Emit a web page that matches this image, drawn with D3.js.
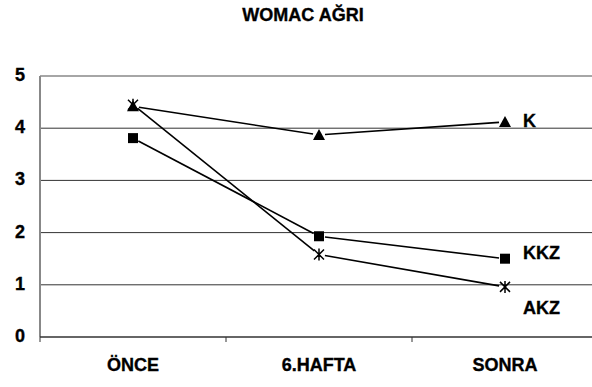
<!DOCTYPE html>
<html><head><meta charset="utf-8">
<script src="https://cdn.jsdelivr.net/npm/d3@7"></script>
<style>body{margin:0;background:#fff}svg{display:block}text{font-family:"Liberation Sans",Arial,sans-serif;font-weight:bold;fill:#000;stroke:#000;stroke-width:0.35px}</style>
</head><body>
<script>
const title = "WOMAC AĞRI";
const categories = ["ÖNCE", "6.HAFTA", "SONRA"];
const seriesNames = ["K", "KKZ", "AKZ"];
const valuesK = [4.42, 3.87, 4.12];
const valuesKKZ = [3.81, 1.93, 1.50];
const valuesAKZ = [4.45, 1.58, 0.96];
const yTicks = [0, 1, 2, 3, 4, 5];

const W = 592, H = 387;
const svg = d3.select("body").append("svg").attr("width", W).attr("height", H);
const L = 40, R = 598, T = 76, B = 337;
const x = d3.scaleBand().domain(categories).range([L, R]);
const y = d3.scaleLinear().domain([0, 5]).range([B, T]);

svg.append("text").attr("x", 303).attr("y", 21).attr("text-anchor", "middle")
  .style("font-size", "18px").text(title);

// gridlines
svg.append("g").selectAll("line").data(yTicks.filter(d => d > 0 && d < 5)).join("line")
  .attr("x1", L).attr("x2", R).attr("y1", d => y(d)).attr("y2", d => y(d))
  .attr("stroke", "#333").attr("stroke-width", 1);
// plot border top/left
svg.append("line").attr("x1", L).attr("x2", R).attr("y1", y(5)).attr("y2", y(5)).attr("stroke", "#888").attr("stroke-width", 1.5);
svg.append("line").attr("x1", L).attr("x2", L).attr("y1", T).attr("y2", B).attr("stroke", "#888").attr("stroke-width", 2);

// x axis
const xAxis = d3.axisBottom(x).tickSize(0).tickFormat("");
const gx = svg.append("g").attr("transform", `translate(0,${B})`).call(xAxis);
gx.select(".domain").remove();
svg.append("line").attr("x1", L).attr("x2", R).attr("y1", B).attr("y2", B).attr("stroke", "#333").attr("stroke-width", 1.5);
svg.append("g").selectAll("line").data(categories).join("line")
  .attr("x1", d => x(d)).attr("x2", d => x(d)).attr("y1", B).attr("y2", B + 5)
  .attr("stroke", "#333").attr("stroke-width", 1);
svg.append("g").selectAll("text").data(categories).join("text")
  .attr("x", d => x(d) + x.bandwidth() / 2).attr("y", 371).attr("text-anchor", "middle")
  .style("font-size", "18px").text(d => d);

// y tick labels
svg.append("g").selectAll("text").data(yTicks).join("text")
  .attr("x", 25).attr("y", d => y(d) + 5).attr("text-anchor", "end")
  .style("font-size", "18px").text(d => d);

const series = [
  {name: seriesNames[0], values: valuesK, marker: "tri"},
  {name: seriesNames[1], values: valuesKKZ, marker: "sq"},
  {name: seriesNames[2], values: valuesAKZ, marker: "ast"}
];
const cx = c => x(c) + x.bandwidth() / 2;
const gap = 6;
series.forEach(s => {
  const pts = categories.map((c, i) => [cx(c), y(s.values[i])]);
  for (let i = 0; i < pts.length - 1; i++) {
    const [x1, y1] = pts[i], [x2, y2] = pts[i + 1];
    const dx = x2 - x1, dy = y2 - y1, len = Math.hypot(dx, dy);
    const ux = dx / len, uy = dy / len;
    svg.append("line").attr("x1", x1 + ux * gap).attr("y1", y1 + uy * gap)
      .attr("x2", x2 - ux * gap).attr("y2", y2 - uy * gap)
      .attr("stroke", "#000").attr("stroke-width", 1.6);
  }
  pts.forEach(([px, py]) => {
    if (s.marker === "tri") {
      svg.append("path").attr("d", `M${px},${py - 6}L${px + 6},${py + 5}L${px - 6},${py + 5}Z`).attr("fill", "#000");
    } else if (s.marker === "sq") {
      svg.append("rect").attr("x", px - 5).attr("y", py - 5).attr("width", 10).attr("height", 10).attr("fill", "#000");
    } else {
      svg.append("path").attr("d", `M${px - 5},${py - 5}L${px + 5},${py + 5}M${px + 5},${py - 5}L${px - 5},${py + 5}M${px},${py - 6}L${px},${py + 6}`)
        .attr("stroke", "#000").attr("stroke-width", 1.5).attr("fill", "none");
    }
  });
});

// series labels
const labelY = {K: 127, KKZ: 259, AKZ: 314};
svg.append("g").selectAll("text").data(seriesNames).join("text")
  .attr("x", 523).attr("y", d => labelY[d])
  .style("font-size", "18px").text(d => d);
</script>
</body></html>
